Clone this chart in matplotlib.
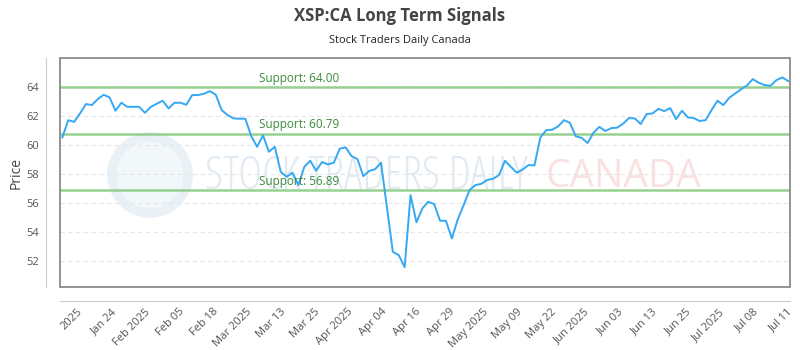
import matplotlib
matplotlib.use("Agg")
import matplotlib.pyplot as plt
import numpy as np
from matplotlib.patches import Rectangle, Circle

plt.rcParams['font.family'] = ['Open Sans', 'DejaVu Sans']

title = "XSP:CA Long Term Signals"
subtitle = "Stock Traders Daily Canada"

prices = [
    60.53, 61.72, 61.60, 62.19, 62.83, 62.76, 63.17, 63.47, 63.29, 62.37,
    62.92, 62.64, 62.64, 62.64, 62.23, 62.64, 62.85, 63.06, 62.53, 62.92,
    62.92, 62.78, 63.45, 63.45, 63.54, 63.72, 63.47, 62.41, 62.07, 61.84,
    61.82, 61.82, 60.62, 59.88, 60.67, 59.54, 59.88, 58.16, 57.81, 58.09,
    57.24, 58.50, 58.92, 58.23, 58.83, 58.67, 58.78, 59.75, 59.84, 59.24,
    59.03, 57.86, 58.21, 58.34, 58.78, 55.70, 52.64, 52.41, 51.57, 56.55,
    54.67, 55.63, 56.09, 55.93, 54.78, 54.78, 53.56, 54.87, 55.86, 56.90,
    57.24, 57.33, 57.59, 57.68, 57.93, 58.92, 58.50, 58.09, 58.32, 58.62,
    58.60, 60.53, 61.03, 61.06, 61.29, 61.72, 61.54, 60.60, 60.50, 60.14,
    60.85, 61.26, 60.97, 61.17, 61.20, 61.47, 61.86, 61.84, 61.45, 62.14,
    62.18, 62.50, 62.34, 62.55, 61.79, 62.37, 61.91, 61.86, 61.66, 61.72,
    62.41, 63.06, 62.76, 63.26, 63.56, 63.84, 64.11, 64.55, 64.30, 64.14,
    64.09, 64.48, 64.67, 64.41,
]

tick_labels = ["2025", "Jan 24", "Feb 2025", "Feb 05", "Feb 18", "Mar 2025",
               "Mar 13", "Mar 25", "Apr 2025", "Apr 04", "Apr 16", "Apr 29",
               "May 2025", "May 09", "May 22", "Jun 2025", "Jun 03", "Jun 13",
               "Jun 25", "Jul 2025", "Jul 08", "Jul 11"]

support_levels = [64.00, 60.79, 56.89]
support_labels = ["Support: 64.00", "Support: 60.79", "Support: 56.89"]

y_ticks = [52, 54, 56, 58, 60, 62, 64]

fig = plt.figure(figsize=(8, 3.5), dpi=100)
ax = fig.add_axes([0.075, 0.18, 0.9125, 0.654])

x = np.arange(len(prices))
ax.set_xlim(-0.4, 123.3)
ax.set_ylim(50.21, 66)

# grid
for yt in y_ticks:
    ax.axhline(yt, color='#e6e6e6', lw=0.8, ls=(0, (4, 3)), zorder=1)

# watermark (logo circle in inches so it stays round)
ax.add_patch(Circle((1.5, 1.75), 0.38, transform=fig.dpi_scale_trans, fill=False,
                    ec='#dbe8f2', lw=7, alpha=0.6, zorder=0))
ax.add_patch(Circle((1.5, 1.75), 0.33, transform=fig.dpi_scale_trans,
                    fc='#eaf2f8', ec='none', alpha=0.6, zorder=0))
ax.text(0.199, 0.48, "STOCK TRADERS DAILY", transform=ax.transAxes,
        fontsize=33, fontstretch='condensed', color='#cddcea', alpha=0.6,
        ha='left', va='center', zorder=0)
ax.text(0.665, 0.48, "CANADA", transform=ax.transAxes,
        fontsize=28, color='#f5c4c4', alpha=0.5, ha='left', va='center', zorder=0)

# support lines
for lvl, lab in zip(support_levels, support_labels):
    ax.axhline(lvl, color='#8ccc84', lw=1.8, alpha=0.9, zorder=2)
    ax.text(0.273, lvl + 0.15, lab, transform=ax.get_yaxis_transform(),
            fontsize=8.5, color='#3c8a3c', ha='left', va='bottom', zorder=4)

ax.plot(x, prices, color='#35a8f4', lw=1.4, zorder=3)

# spines
for s in ['top', 'right']:
    ax.spines[s].set_visible(False)
ax.spines['left'].set_position(('outward', 10))
ax.spines['bottom'].set_position(('outward', 10))
ax.spines['left'].set_color('#cccccc')
ax.spines['bottom'].set_color('#cccccc')
ax.add_patch(Rectangle((0, 0), 1, 1, transform=ax.transAxes, fill=False,
                       ec='#808080', lw=1.2, clip_on=False, zorder=5))

ax.set_yticks(y_ticks)
ax.set_yticklabels([str(v) for v in y_ticks])
tick_pos = np.linspace(2.5, 122.8, len(tick_labels))
ax.set_xticks(tick_pos)
ax.set_xticklabels(tick_labels, rotation=45, ha='right', rotation_mode='anchor')
ax.tick_params(axis='both', length=0, labelsize=8, colors='#555555')
ax.tick_params(axis='x', pad=4)
ax.tick_params(axis='y', pad=5)
ax.set_ylabel("Price", fontsize=10, color='#444444', labelpad=2)

fig.text(0.5, 0.955, title, ha='center', va='center', fontsize=12,
         fontweight='bold', color='#444444')
fig.text(0.5, 0.885, subtitle, ha='center', va='center', fontsize=8,
         color='#222222')

fig.savefig("out.png", dpi=100)
